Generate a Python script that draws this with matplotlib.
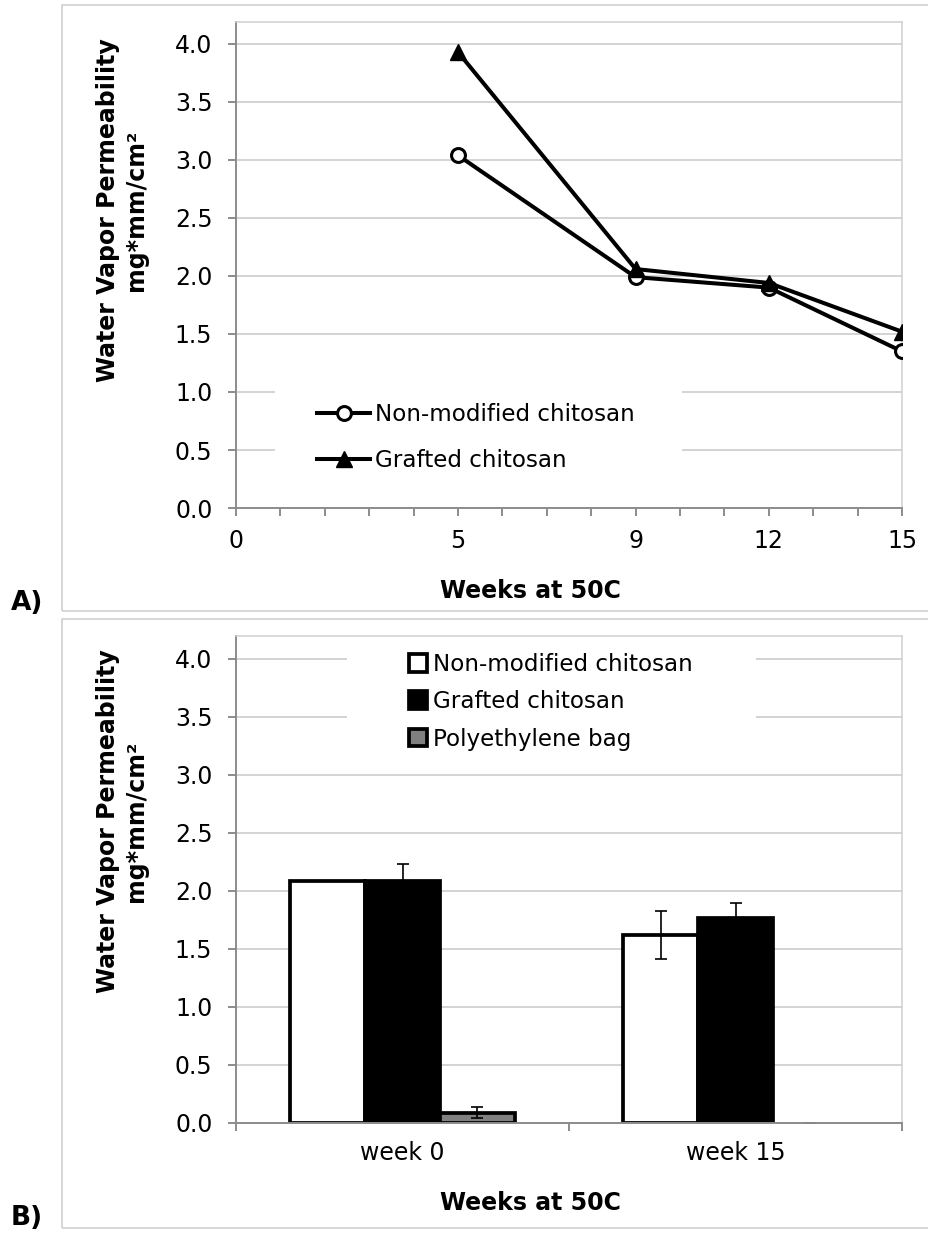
import numpy as np
import matplotlib
matplotlib.use("Agg")
import matplotlib.pyplot as plt
from matplotlib.patches import Rectangle
from matplotlib.ticker import FormatStrFormatter

# panel A: permeability vs storage time
weeks = [5, 9, 12, 15]
wvp_nonmod = [3.04, 1.99, 1.90, 1.35]
wvp_grafted = [3.93, 2.06, 1.94, 1.52]
week_ticks = list(range(16))
week_labels_shown = [0, 5, 9, 12, 15]

# panel B: bars with error bars
groups = ["week 0", "week 15"]
bar_nonmod = [2.09, 1.62]
err_nonmod = [0.0, 0.21]
bar_grafted = [2.09, 1.77]
err_grafted = [0.14, 0.13]
bar_pe = [0.09, 0.0]
err_pe = [0.045, 0.0]

yticks = np.arange(0, 4.01, 0.5)
ylabel = "Water Vapor Permeability\nmg*mm/cm\u00b2"

W, H = 929, 1233
plt.rcParams["font.family"] = "DejaVu Sans"
plt.rcParams["font.size"] = 16

fig = plt.figure(figsize=(W / 100, H / 100), dpi=100)

GRID = "#c8c8c8"
AXIS = "#8c8c8c"
FRAME = "#d0d0d0"
TICK_FS = 17
LEG_FS = 16.6


def px_axes(left, top, right, bottom):
    return fig.add_axes([left / W, 1 - bottom / H, (right - left) / W, (bottom - top) / H])


def style_axes(ax):
    ax.set_axisbelow(True)
    ax.yaxis.grid(True, color=GRID, lw=1.1)
    ax.set_yticks(yticks)
    ax.yaxis.set_major_formatter(FormatStrFormatter("%.1f"))
    for s in ["left", "bottom"]:
        ax.spines[s].set_color(AXIS)
        ax.spines[s].set_linewidth(1.4)
    for s in ["top", "right"]:
        ax.spines[s].set_color(FRAME)
        ax.spines[s].set_linewidth(1.1)
    ax.tick_params(axis="y", direction="out", length=6, width=1.4, color=AXIS, pad=11, labelsize=TICK_FS)
    ax.tick_params(axis="x", direction="out", length=6, width=1.4, color=AXIS, pad=9, labelsize=TICK_FS)


def chart_border(top, bottom):
    fig.add_artist(Rectangle((62 / W, 1 - bottom / H), (940 - 62) / W, (bottom - top) / H,
                             transform=fig.transFigure, fill=False, edgecolor=FRAME, lw=1.2))


# ---- A) line chart ----
chart_border(5, 611)
axA = px_axes(236, 22, 902, 508)
style_axes(axA)
axA.set_xlim(0, 15)
axA.set_ylim(0, (508 - 22) / 116)
axA.set_xticks(week_ticks)
axA.set_xticklabels([str(t) if t in week_labels_shown else "" for t in week_ticks])

axA.plot(weeks, wvp_nonmod, color="black", lw=2.9, marker="o", ms=10,
         mfc="white", mec="black", mew=2.2, label="Non-modified chitosan", zorder=3)
axA.plot(weeks, wvp_grafted, color="black", lw=2.9, marker="^", ms=11,
         mfc="black", mec="black", label="Grafted chitosan", zorder=3)

axA.add_patch(Rectangle((0.0586, 0.037), 0.611, 0.247, transform=axA.transAxes,
                        facecolor="white", edgecolor="none", zorder=0.8))
axA.legend(loc="upper left", bbox_to_anchor=(317 / W, 1 - 403 / H), bbox_transform=fig.transFigure,
           frameon=False, handlelength=2.3, handletextpad=0.2, labelspacing=0.98,
           borderpad=0, borderaxespad=0, fontsize=LEG_FS)

fig.text(122 / W, 1 - 210 / H, ylabel, rotation=90, ha="center", va="center",
         multialignment="center", fontweight="bold", fontsize=17, linespacing=1.25)
fig.text(530 / W, 1 - 591 / H, "Weeks at 50C", ha="center", va="center",
         fontweight="bold", fontsize=17)
fig.text(27 / W, 1 - 603 / H, "A)", ha="center", va="center", fontweight="bold", fontsize=19)

# ---- B) bar chart ----
chart_border(619, 1228)
axB = px_axes(236, 636, 902, 1123)
style_axes(axB)
x = np.arange(len(groups))
bw = 0.225
axB.set_xlim(-0.5, len(groups) - 0.5)
axB.set_ylim(0, (1123 - 636) / 116)

ekw = dict(ecolor="black", elinewidth=1.2, capsize=4.5, capthick=1.2)
series = [
    (bar_nonmod, err_nonmod, "white", "Non-modified chitosan", -bw),
    (bar_grafted, err_grafted, "black", "Grafted chitosan", 0.0),
    (bar_pe, err_pe, "#808080", "Polyethylene bag", bw),
]
for vals, errs, col, lab, off in series:
    lws = [2.7 if v > 0 else 0 for v in vals]
    axB.bar(x + off, vals, width=bw, color=col, edgecolor="black", linewidth=lws,
            yerr=errs, error_kw=ekw, label=lab, zorder=2)

axB.set_xticks(x)
axB.set_xticklabels(groups)
axB.set_xticks(np.arange(-0.5, len(groups), 1.0), minor=True)
axB.tick_params(axis="x", which="major", length=0, pad=13)
axB.tick_params(axis="x", which="minor", direction="out", length=6, width=1.4, color=AXIS)

axB.add_patch(Rectangle((0.1667, 0.807), 0.614, 0.178, transform=axB.transAxes,
                        facecolor="white", edgecolor="none", zorder=0.8))
axB.legend(loc="upper left", bbox_to_anchor=(409 / W, 1 - 653 / H), bbox_transform=fig.transFigure,
           frameon=False, handlelength=0.8, handleheight=0.8, handletextpad=0.22,
           labelspacing=0.62, borderpad=0, borderaxespad=0, fontsize=LEG_FS)

fig.text(122 / W, 1 - 821 / H, ylabel, rotation=90, ha="center", va="center",
         multialignment="center", fontweight="bold", fontsize=17, linespacing=1.25)
fig.text(530 / W, 1 - 1203 / H, "Weeks at 50C", ha="center", va="center",
         fontweight="bold", fontsize=17)
fig.text(27 / W, 1 - 1218 / H, "B)", ha="center", va="center", fontweight="bold", fontsize=19)

fig.savefig("out.png", dpi=100, facecolor="white")
